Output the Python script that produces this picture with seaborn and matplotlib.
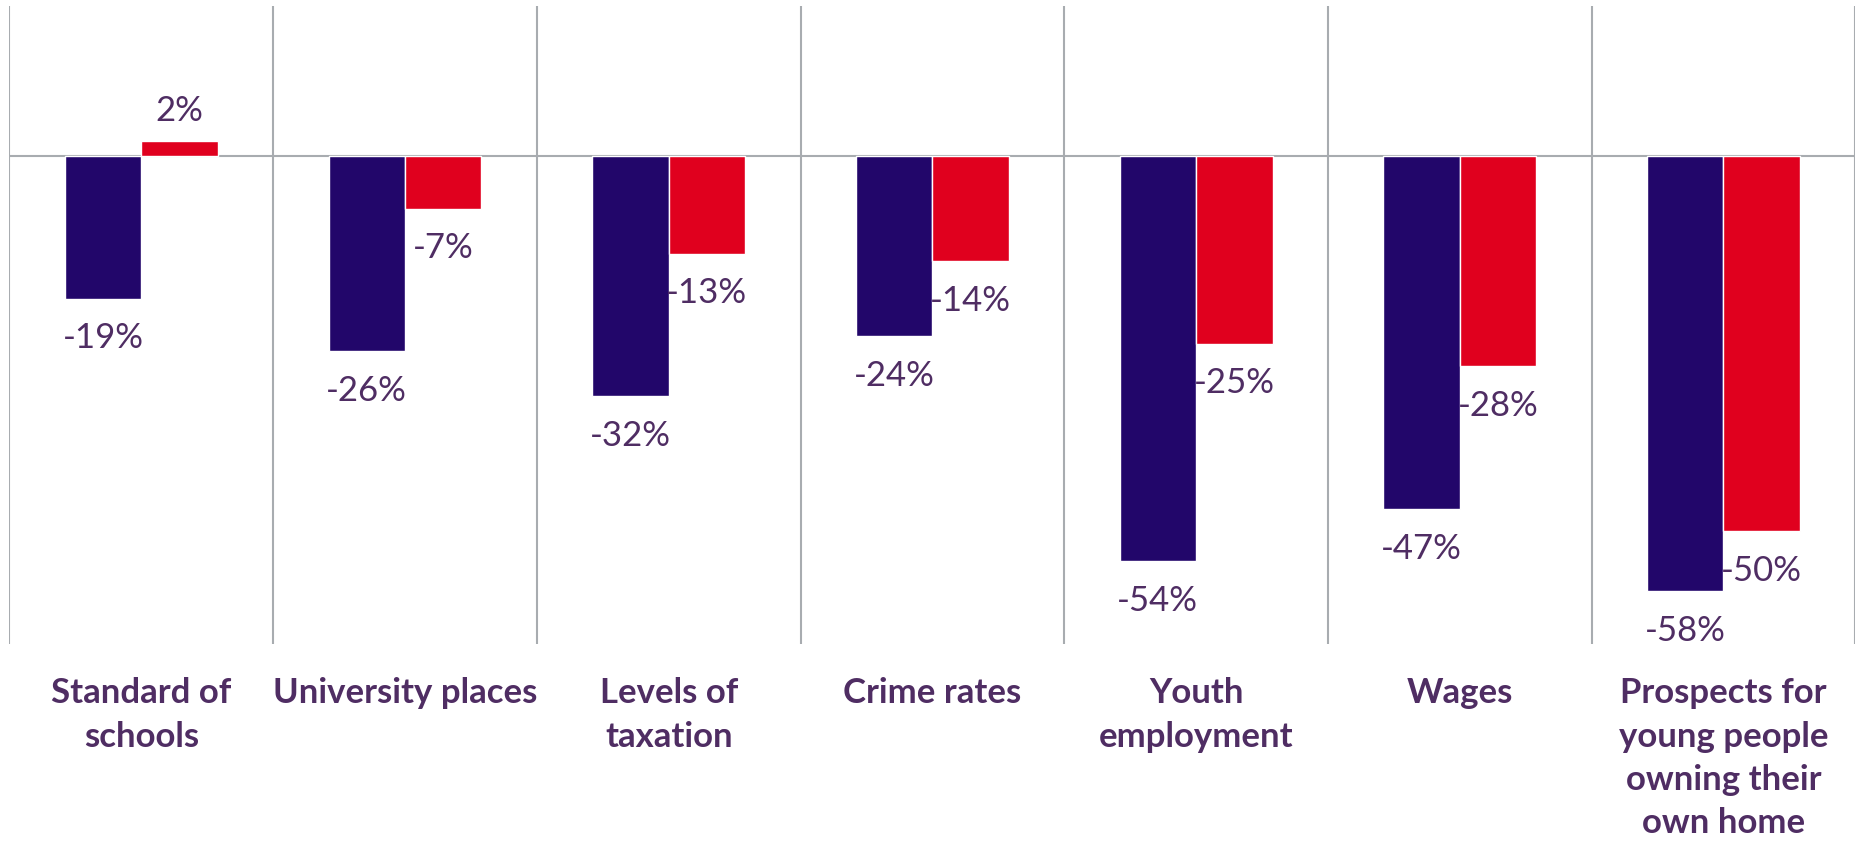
import numpy as np
import pandas as pd
import matplotlib
matplotlib.use("Agg")
import matplotlib.pyplot as plt
import seaborn as sns

# ---------------------------------------------------------------------------
# Data
# ---------------------------------------------------------------------------
categories = [
    "Standard of\nschools",
    "University places",
    "Levels of\ntaxation",
    "Crime rates",
    "Youth\nemployment",
    "Wages",
    "Prospects for\nyoung people\nowning their\nown home",
]
series_names = ["Series 1", "Series 2"]
series_1 = [-19, -26, -32, -24, -54, -47, -58]
series_2 = [2, -7, -13, -14, -25, -28, -50]

colors = ["#22066A", "#E0001E"]
text_color = "#4F2D63"
grid_color = "#A8ACB0"

df = pd.DataFrame({
    "category": categories * 2,
    "series": [series_names[0]] * len(categories) + [series_names[1]] * len(categories),
    "value": series_1 + series_2,
})

# ---------------------------------------------------------------------------
# Plot
# ---------------------------------------------------------------------------
sns.set_style("white")
plt.rcParams["font.family"] = ["Lato", "DejaVu Sans"]

fig = plt.figure(figsize=(18.59, 8.43), dpi=100)
ax = fig.add_axes([0.0051, 0.236, 0.9929, 0.757])

sns.barplot(data=df, x="category", y="value", hue="series",
            palette=colors, width=0.58, gap=0, saturation=1,
            order=categories, hue_order=series_names, legend=False, ax=ax)

# data labels: above positive bars, below negative ones
for cont in ax.containers:
    for b in cont:
        v = b.get_height()
        x = b.get_x() + b.get_width() / 2
        if v >= 0:
            ax.annotate(f"{v:.0f}%", (x, v), xytext=(0, 10), textcoords="offset points",
                        ha="center", va="bottom", fontsize=25, color=text_color)
        else:
            ax.annotate(f"{v:.0f}%", (x, v), xytext=(0, -17), textcoords="offset points",
                        ha="center", va="top", fontsize=25, color=text_color)

ax.set_ylim(-65, 20)
ax.set_xlim(-0.5, len(categories) - 0.5)

ax.axhline(0, color=grid_color, lw=1.5, zorder=0)
for i in range(len(categories) + 1):
    ax.axvline(i - 0.5, color=grid_color, lw=1.5, zorder=0)

for s in ax.spines.values():
    s.set_visible(False)

ax.set_yticks([])
ax.set_xlabel("")
ax.set_ylabel("")
ax.tick_params(axis="x", length=0, pad=24)
ax.set_xticks(range(len(categories)))
ax.set_xticklabels(categories, fontsize=25, fontweight="bold", color=text_color,
                   linespacing=1.43, va="top", ha="center")

fig.savefig("out.png", dpi=100, facecolor="white")
